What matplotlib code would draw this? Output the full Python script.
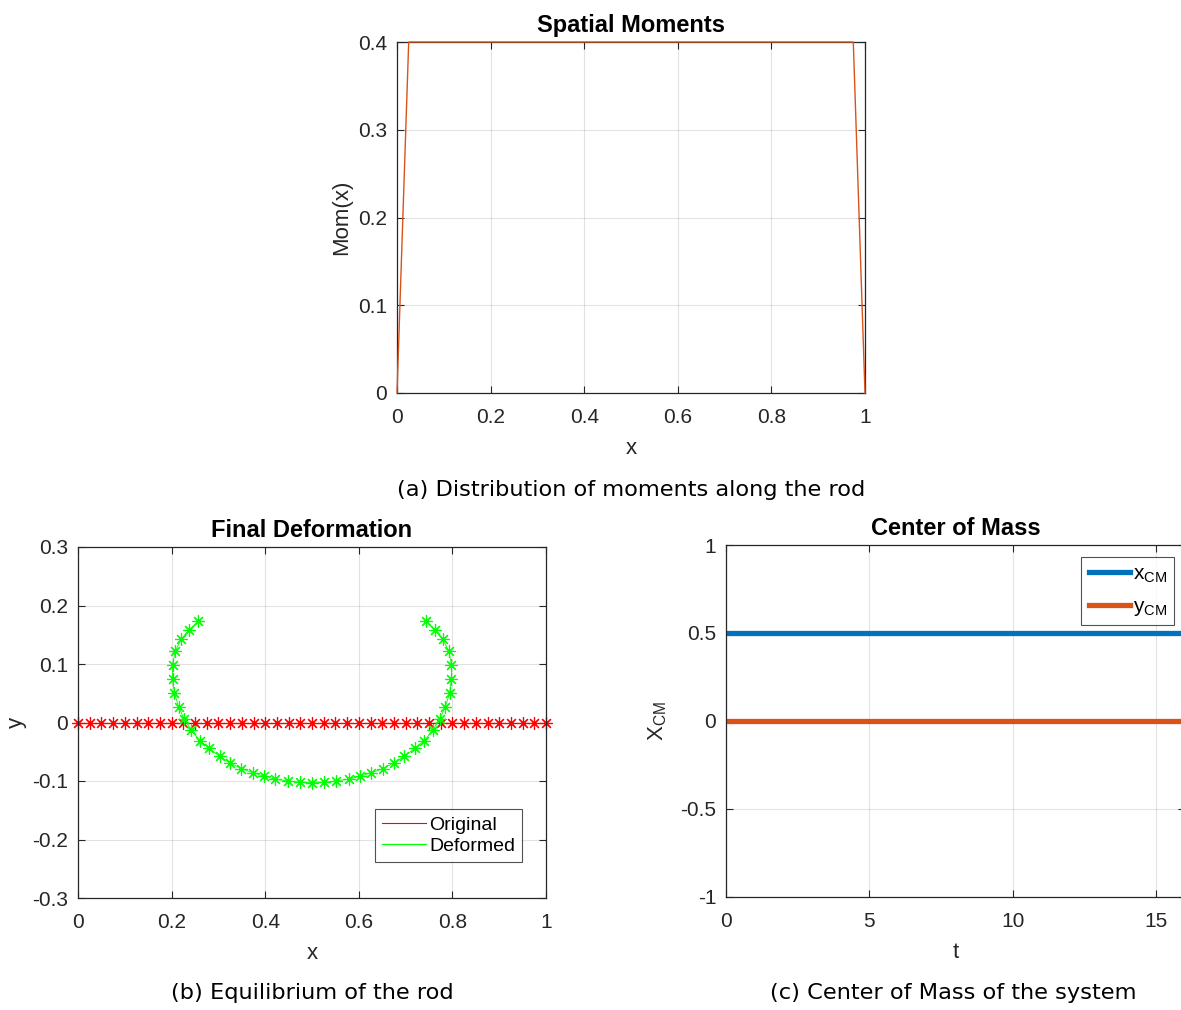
import numpy as np
import matplotlib
matplotlib.use("Agg")
import matplotlib.pyplot as plt
from matplotlib.lines import Line2D
from matplotlib.ticker import FuncFormatter

plt.rcParams['font.family'] = ['Liberation Sans', 'DejaVu Sans']
plt.rcParams['axes.unicode_minus'] = False
plt.rcParams['mathtext.default'] = 'regular'

# --- data -----------------------------------------------------------------
# Spatial moment distribution along the rod
rod_x = np.linspace(0, 1, 41)
moment = [0.0] + [0.4] * 39 + [0.0]

# Original (straight) rod
orig_y = [0.0] * 41

# Deformed rod: left half down to the midpoint (right half mirrors it)
deformed_x_left = [0.257, 0.237, 0.220, 0.208, 0.202, 0.202, 0.206, 0.215,
                   0.227, 0.242, 0.260, 0.280, 0.303, 0.325, 0.349, 0.374,
                   0.398, 0.422, 0.448, 0.475, 0.500]
deformed_y_left = [0.173, 0.158, 0.142, 0.122, 0.099, 0.074, 0.050, 0.027,
                   0.006, -0.013, -0.031, -0.044, -0.058, -0.069, -0.079,
                   -0.086, -0.092, -0.097, -0.100, -0.102, -0.103]
deformed_x = deformed_x_left + [1.0 - v for v in deformed_x_left[-2::-1]]
deformed_y = deformed_y_left + deformed_y_left[-2::-1]

# Centre of mass over time
t = [0.0, 16.0]
x_cm = [0.5, 0.5]
y_cm = [0.0, 0.0]

# --- styling helpers -------------------------------------------------------
AX_COLOR = '#262626'
BLUE = '#0072BD'
ORANGE = '#D95319'
GREEN = '#00ff00'
TICK_FS = 15
LABEL_FS = 16
TITLE_FS = 17
CAP_FONT = ['DejaVu Sans']
CAP_FS = 16.2

fmt = FuncFormatter(lambda v, p: ('%g' % round(v, 6)))


def style(ax):
    for s in ax.spines.values():
        s.set_color(AX_COLOR)
        s.set_linewidth(0.9)
    ax.tick_params(direction='in', top=True, right=True, length=5,
                   width=0.8, colors=AX_COLOR, labelsize=TICK_FS)
    ax.tick_params(axis='x', pad=11)
    ax.tick_params(axis='y', pad=7)
    ax.grid(True, color=AX_COLOR, alpha=0.13, linewidth=0.8)
    ax.set_axisbelow(True)
    ax.xaxis.set_major_formatter(fmt)
    ax.yaxis.set_major_formatter(fmt)


W, H = 1181, 1010
fig = plt.figure(figsize=(W / 100, H / 100), dpi=100)


def axes_px(left, top, right, bottom):
    return fig.add_axes([left / W, 1 - bottom / H, (right - left) / W,
                         (bottom - top) / H])


def fig_pt(x, y):
    return (x / W, 1 - y / H)


# (a) spatial moments
ax1 = axes_px(397, 42, 865, 393)
ax1.plot(rod_x, moment, color=ORANGE, linewidth=1.0, clip_on=False,
         zorder=5)
ax1.set_xlim(0, 1)
ax1.set_ylim(0, 0.4)
ax1.set_xticks(np.arange(0, 1.01, 0.2))
ax1.set_yticks(np.arange(0, 0.41, 0.1))
style(ax1)
ax1.set_title('Spatial Moments', fontsize=TITLE_FS, fontweight='bold',
              color='black', pad=7)
ax1.set_xlabel('x', fontsize=LABEL_FS, color=AX_COLOR, labelpad=7.5)
ax1.set_ylabel('Mom(x)', fontsize=LABEL_FS, color=AX_COLOR, labelpad=4)

# (b) equilibrium of the rod
star = (8, 2, 0)
ax2 = axes_px(78, 547, 546, 898)
ax2.plot(rod_x, orig_y, color='red', linewidth=0.6, marker=star,
         markersize=9, markeredgewidth=0.85, clip_on=False)
ax2.plot(deformed_x, deformed_y, color=GREEN, linewidth=0.6,
         marker=star, markersize=9, markeredgewidth=0.85)
ax2.set_xlim(0, 1)
ax2.set_ylim(-0.3, 0.3)
ax2.set_xticks(np.arange(0, 1.01, 0.2))
ax2.set_yticks(np.arange(-0.3, 0.31, 0.1))
style(ax2)
ax2.set_title('Final Deformation', fontsize=TITLE_FS, fontweight='bold',
              color='black', pad=7)
ax2.set_xlabel('x', fontsize=LABEL_FS, color=AX_COLOR, labelpad=7.5)
ax2.set_ylabel('y', fontsize=LABEL_FS, color=AX_COLOR, labelpad=4)
leg2 = ax2.legend([Line2D([], [], color='red', linewidth=0.8),
                   Line2D([], [], color=GREEN, linewidth=0.9)],
                  ['Original', 'Deformed'], loc='lower right',
                  bbox_to_anchor=fig_pt(522, 862),
                  bbox_transform=fig.transFigure, borderaxespad=0,
                  fontsize=14, frameon=True, fancybox=False,
                  edgecolor=AX_COLOR, handlelength=2.3, handletextpad=0.15,
                  borderpad=0.35, labelspacing=0.2)
leg2.get_frame().set_linewidth(0.8)

# (c) centre of mass
ax3 = axes_px(726, 545, 1185, 897)
ax3.plot(t, x_cm, color=BLUE, linewidth=3.8, solid_capstyle='butt')
ax3.plot(t, y_cm, color=ORANGE, linewidth=3.8, solid_capstyle='butt')
ax3.set_xlim(0, 16)
ax3.set_ylim(-1, 1)
ax3.set_xticks([0, 5, 10, 15])
ax3.set_yticks([-1, -0.5, 0, 0.5, 1])
style(ax3)
ax3.set_title('Center of Mass', fontsize=TITLE_FS, fontweight='bold',
              color='black', pad=7)
ax3.set_xlabel('t', fontsize=LABEL_FS, color=AX_COLOR, labelpad=7.5)
ax3.set_ylabel('X$_{CM}$', fontsize=LABEL_FS, color=AX_COLOR, labelpad=8)
leg3 = ax3.legend([Line2D([], [], color=BLUE, linewidth=3.8),
                   Line2D([], [], color=ORANGE, linewidth=3.8)],
                  ['x$_{CM}$', 'y$_{CM}$'], loc='upper right',
                  bbox_to_anchor=fig_pt(1174, 557),
                  bbox_transform=fig.transFigure, borderaxespad=0,
                  fontsize=15, frameon=True, fancybox=False,
                  edgecolor=AX_COLOR, handlelength=2.0, handletextpad=0.1,
                  borderpad=0.35, labelspacing=0.6)
leg3.get_frame().set_linewidth(0.8)

# captions
fig.text(631 / W, 1 - 490 / H, '(a) Distribution of moments along the rod',
         ha='center', va='center', fontsize=CAP_FS, family=CAP_FONT)
fig.text(312 / W, 1 - 993 / H, '(b) Equilibrium of the rod',
         ha='center', va='center', fontsize=CAP_FS, family=CAP_FONT)
fig.text(953 / W, 1 - 993 / H, '(c) Center of Mass of the system',
         ha='center', va='center', fontsize=CAP_FS, family=CAP_FONT)

fig.savefig('out.png', dpi=100)
